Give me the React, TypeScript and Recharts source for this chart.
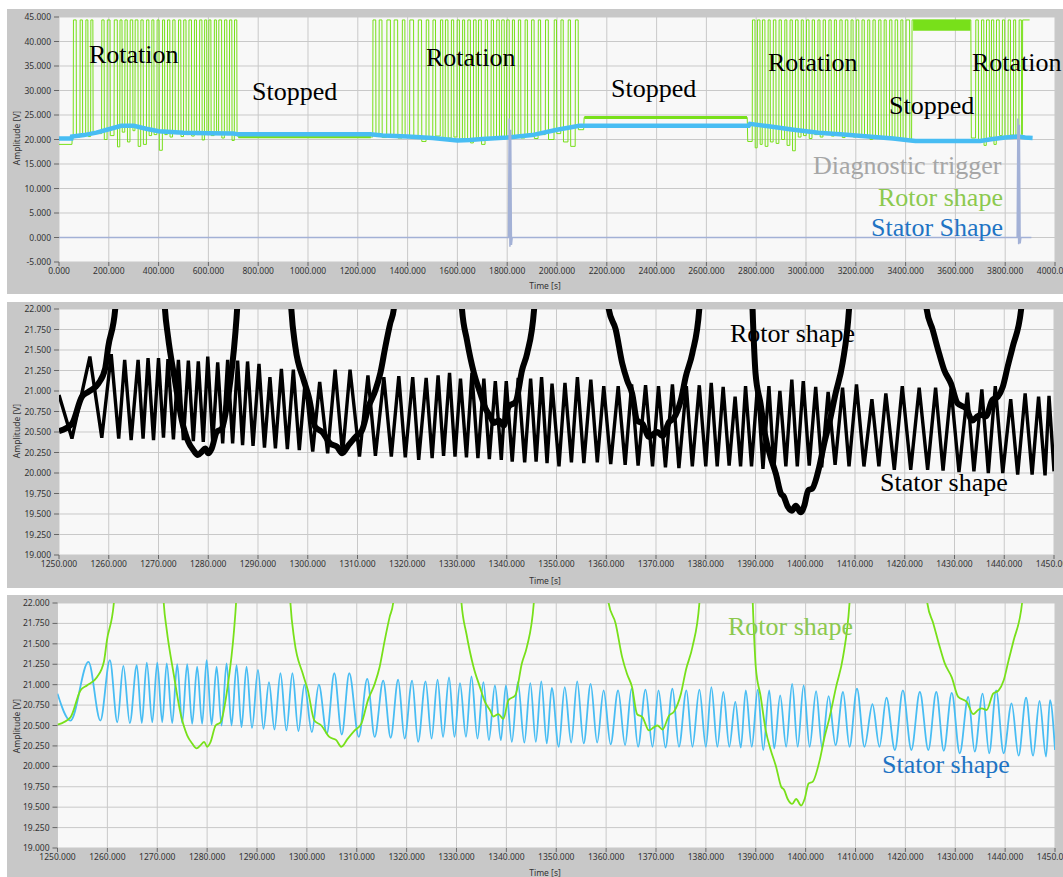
import React from 'react';
import { LineChart, Line, XAxis, YAxis, CartesianGrid } from 'recharts';

// ---------- overview panel (0 - 4000 s) ----------
const overviewTimeTicks = [0, 200, 400, 600, 800, 1000, 1200, 1400, 1600, 1800, 2000, 2200, 2400, 2600, 2800, 3000, 3200, 3400, 3600, 3800, 4000];
const overviewAmpTicks = [-5, 0, 5, 10, 15, 20, 25, 30, 35, 40, 45];

// rotor signal clips at this level while the rotor passes
const PULSE_TOP = 44.4;

// rotor pulses: [rise s, fall s, level after fall V]
const rotation1 = [
  [58, 69, 20.5], [85, 94, 20.8], [108, 116, 20.6], [128, 136, 21.2], [172, 181, 20.0], [194, 205, 20.8],
  [222, 234, 18.5], [245, 253, 21.5], [265, 274, 19.5], [286, 296, 21.8], [306, 317, 18.6], [329, 338, 19.0],
  [352, 361, 20.8], [373, 381, 21.0], [394, 402, 17.8], [416, 424, 21.0], [436, 445, 20.5], [457, 466, 21.2],
  [480, 489, 20.6], [501, 510, 21.0], [522, 532, 20.7], [544, 552, 21.0], [565, 574, 19.9], [585, 593, 21.0],
  [602, 610, 20.8], [624, 632, 21.3], [642, 653, 20.3], [665, 674, 21.0], [685, 694, 19.8], [705, 714, 21.0],
];
const rotation2 = [
  [1261, 1272, 20.6], [1286, 1297, 20.4], [1317, 1331, 20.8], [1346, 1360, 20.3], [1379, 1389, 20.6], [1409, 1424, 20.5],
  [1443, 1456, 19.6], [1475, 1485, 20.4], [1502, 1512, 20.7], [1532, 1541, 20.2], [1552, 1562, 20.3], [1576, 1585, 20.5],
  [1599, 1608, 19.8], [1621, 1629, 20.0], [1642, 1652, 19.3], [1665, 1675, 20.1], [1685, 1696, 19.0], [1712, 1721, 20.2],
  [1736, 1745, 20.3], [1758, 1768, 20.1], [1778, 1788, 20.5], [1798, 1808, 20.4], [1821, 1829, 20.6], [1845, 1854, 20.3],
  [1872, 1881, 20.8], [1898, 1908, 20.2], [1925, 1934, 21.0], [1954, 1965, 20.0], [1989, 1998, 21.2], [2016, 2025, 19.5],
  [2045, 2054, 18.6], [2074, 2085, 22.0],
];
const rotation3 = [
  [2785, 2795, 18.3], [2805, 2815, 19.0], [2825, 2835, 18.6], [2848, 2856, 19.5], [2869, 2879, 19.2], [2892, 2901, 20.0],
  [2915, 2923, 18.8], [2936, 2945, 17.7], [2958, 2968, 20.5], [2981, 2989, 20.8], [3002, 3012, 20.2], [3025, 3034, 21.0],
  [3048, 3056, 20.5], [3069, 3078, 21.0], [3092, 3101, 20.7], [3114, 3122, 20.9], [3136, 3145, 20.4], [3158, 3168, 20.8],
  [3181, 3189, 20.5], [3202, 3212, 20.4], [3225, 3234, 20.7], [3248, 3256, 20.0], [3269, 3278, 20.5], [3292, 3301, 20.2],
  [3314, 3322, 20.4], [3336, 3345, 20.0], [3358, 3368, 20.3], [3381, 3389, 19.9], [3402, 3416, 19.6],
];
const rotation4 = [
  [3682, 3692, 19.8], [3705, 3714, 18.8], [3725, 3736, 20.5], [3745, 3754, 19.0], [3765, 3776, 20.8],
  [3789, 3798, 20.6], [3812, 3821, 20.9], [3834, 3842, 20.7], [3856, 3865, 21.0],
];

// rotor levels outside the pulse trains
const rotorLeadIn = [[0, 19.0], [52, 19.0], [53, 20.2]];
const rotorStop1 = [[720, 20.5], [1255, 20.5]];
const rotorStop2 = [[2100, 22.0], [2107, 22.0], [2109, 24.5], [2764, 24.5], [2766, 19.6]];
const rotorStop3 = [[3424, 19.6], [3426, PULSE_TOP], [3662, PULSE_TOP], [3664, 20.3]];
const rotorTail = [[3869, 21.0], [3870, PULSE_TOP], [3898, PULSE_TOP]];
// noisy resting levels while stopped
const rotorRest1 = [[720, 20.5], [1252, 20.5]];
const rotorRest2 = [[2110, 24.5], [2763, 24.5]];
const rotorSaturated = [[3430, 43.3], [3660, 43.3]];

const statorOverview = [
  [0, 20.2], [50, 20.2], [52, 20.6], [100, 20.9], [150, 21.4], [200, 22.1], [250, 22.8], [300, 22.8], [350, 22.2],
  [400, 21.7], [500, 21.4], [600, 21.3], [700, 21.2], [720, 21.05], [1250, 21.05], [1300, 20.8], [1400, 20.6],
  [1500, 20.3], [1600, 19.8], [1650, 19.9], [1700, 20.1], [1800, 20.4], [1900, 20.9], [2000, 22.0], [2090, 22.8],
  [2770, 22.8], [2775, 23.2], [2850, 22.7], [2950, 22.0], [3050, 21.4], [3150, 21.0], [3250, 20.6], [3350, 20.2],
  [3420, 19.8], [3440, 19.7], [3700, 19.7], [3750, 20.1], [3800, 20.4], [3850, 20.6], [3880, 20.4], [3910, 20.3],
];

const diagnosticTrigger = [
  [0, 0], [1805, 0], [1808, 24.3], [1811, -1.9], [1814, 22.0], [1817, -1.5], [1820, 0],
  [3848, 0], [3851, 24.3], [3854, -1.4], [3857, 23.0], [3860, -1.2], [3863, 0], [3905, 0],
];

// ---------- zoomed panels (1250 - 1450 s) ----------
const zoomTimeTicks = [1250, 1260, 1270, 1280, 1290, 1300, 1310, 1320, 1330, 1340, 1350, 1360, 1370, 1380, 1390, 1400, 1410, 1420, 1430, 1440, 1450];
const zoomAmpTicks = [19, 19.25, 19.5, 19.75, 20, 20.25, 20.5, 20.75, 21, 21.25, 21.5, 21.75, 22];

// filtered rotor shape; 44.4 marks the clipped passes above the view
const rotorShape = [
  [1250.0, 20.51], [1252.6, 20.60], [1254.6, 20.93], [1255.9, 20.99], [1257.9, 21.09], [1259.3, 21.28], [1259.9, 21.54], [1261.3, 22.0],
  [1266.0, 44.4],
  [1271.3, 22.0], [1271.9, 21.67], [1273.3, 21.13], [1274.7, 20.64], [1276.0, 20.38], [1277.0, 20.28], [1277.9, 20.22], [1278.7, 20.26],
  [1279.4, 20.30], [1280.0, 20.24], [1280.7, 20.30], [1281.7, 20.50], [1282.7, 20.54], [1284.1, 20.97], [1285.4, 21.67], [1285.8, 22.0],
  [1291.0, 44.4],
  [1296.7, 22.0], [1297.5, 21.54], [1299.2, 21.13], [1300.2, 20.93], [1301.5, 20.56], [1302.9, 20.50], [1304.5, 20.36], [1305.9, 20.32],
  [1306.9, 20.24], [1308.2, 20.34], [1309.6, 20.44], [1310.9, 20.52], [1312.3, 20.82], [1313.6, 21.01], [1314.6, 21.22], [1315.6, 21.54],
  [1316.6, 21.83], [1317.3, 22.0],
  [1324.0, 44.4],
  [1331.0, 22.0], [1332.0, 21.62], [1333.4, 21.22], [1334.7, 20.97], [1335.7, 20.79], [1336.7, 20.69], [1337.4, 20.61], [1338.4, 20.64],
  [1339.4, 20.58], [1340.4, 20.81], [1341.8, 20.87], [1343.1, 21.26], [1344.1, 21.46], [1345.5, 22.0],
  [1353.0, 44.4],
  [1360.5, 22.0], [1361.9, 21.75], [1363.2, 21.34], [1364.2, 21.13], [1365.2, 20.97], [1366.2, 20.64], [1367.3, 20.60], [1368.6, 20.44],
  [1369.6, 20.48], [1370.3, 20.50], [1371.3, 20.45], [1372.6, 20.62], [1373.6, 20.67], [1375.0, 20.89], [1376.0, 21.18], [1377.3, 21.46],
  [1378.7, 22.0],
  [1384.0, 44.4],
  [1389.4, 22.0], [1390.0, 21.22], [1391.0, 20.85], [1392.0, 20.44], [1393.0, 20.20], [1394.1, 19.99], [1395.1, 19.75], [1395.7, 19.71],
  [1396.4, 19.60], [1397.3, 19.54], [1398.1, 19.60], [1399.1, 19.52], [1399.8, 19.60], [1400.6, 19.79], [1401.4, 19.81], [1402.8, 20.07],
  [1403.8, 20.36], [1404.8, 20.60], [1406.1, 20.97], [1407.5, 21.34], [1408.8, 22.0],
  [1416.0, 44.4],
  [1424.4, 22.0], [1425.6, 21.75], [1426.9, 21.46], [1427.9, 21.26], [1429.3, 21.09], [1430.6, 20.85], [1432.3, 20.79], [1433.6, 20.64],
  [1434.6, 20.69], [1435.3, 20.71], [1436.3, 20.69], [1437.6, 20.89], [1438.7, 20.93], [1439.7, 21.05], [1440.7, 21.30], [1441.7, 21.54],
  [1443.4, 22.0],
  [1450.0, 44.4],
];

// filtered stator shape: alternating peaks and troughs
const statorShape = [
  [1250.0, 20.89], [1252.6, 20.56], [1256.2, 21.28], [1258.6, 20.56], [1260.5, 21.30], [1262.0, 20.54], [1263.2, 21.23], [1264.5, 20.53],
  [1265.9, 21.24], [1266.9, 20.53], [1267.9, 21.27], [1269.0, 20.54], [1270.0, 21.27], [1271.0, 20.54], [1271.9, 21.26], [1273.0, 20.53],
  [1274.0, 21.25], [1275.0, 20.53], [1276.0, 21.25], [1277.0, 20.52], [1278.0, 21.22], [1279.0, 20.52], [1279.9, 21.30], [1280.9, 20.51],
  [1281.9, 21.22], [1282.9, 20.50], [1283.9, 21.26], [1284.9, 20.50], [1285.9, 21.24], [1286.9, 20.48], [1287.9, 21.22], [1289.0, 20.47],
  [1290.2, 21.18], [1291.3, 20.46], [1292.4, 21.03], [1293.5, 20.45], [1294.7, 21.14], [1295.9, 20.44], [1297.1, 21.14], [1298.3, 20.43],
  [1299.5, 21.00], [1301.0, 20.42], [1302.4, 21.00], [1304.0, 20.40], [1305.5, 21.14], [1307.0, 20.39], [1308.5, 21.14], [1310.4, 20.36],
  [1312.1, 21.07], [1313.6, 20.36], [1315.3, 21.05], [1316.8, 20.35], [1318.3, 21.06], [1319.6, 20.34], [1321.1, 21.05], [1322.3, 20.30],
  [1323.8, 21.04], [1325.0, 20.34], [1326.2, 21.06], [1327.3, 20.36], [1328.5, 21.09], [1329.6, 20.36], [1330.7, 21.02], [1331.9, 20.36],
  [1333.0, 21.10], [1334.2, 20.34], [1335.4, 21.03], [1336.5, 20.32], [1337.7, 20.99], [1338.9, 20.32], [1339.9, 20.99], [1341.1, 20.30],
  [1342.3, 21.03], [1343.6, 20.29], [1344.8, 21.02], [1345.9, 20.30], [1347.0, 21.04], [1348.1, 20.28], [1349.1, 20.96], [1350.5, 20.24],
  [1351.7, 20.97], [1353.0, 20.29], [1354.2, 21.04], [1355.5, 20.28], [1356.9, 21.01], [1358.2, 20.29], [1359.5, 20.93], [1360.9, 20.27],
  [1362.4, 20.93], [1363.8, 20.26], [1365.1, 20.95], [1366.4, 20.24], [1367.9, 20.94], [1369.3, 20.24], [1370.5, 20.93], [1371.9, 20.23],
  [1373.3, 20.95], [1374.6, 20.24], [1376.1, 20.93], [1377.3, 20.24], [1378.7, 20.94], [1380.0, 20.24], [1381.1, 20.97], [1382.3, 20.24],
  [1383.5, 20.91], [1384.7, 20.24], [1385.9, 20.79], [1387.0, 20.23], [1388.0, 20.93], [1389.2, 20.24], [1390.4, 20.94], [1391.5, 20.20],
  [1392.7, 20.93], [1393.7, 20.22], [1394.9, 20.87], [1396.1, 20.24], [1397.3, 21.01], [1398.4, 20.24], [1399.6, 20.99], [1400.8, 20.24],
  [1402.1, 20.92], [1403.3, 20.23], [1404.6, 20.86], [1406.0, 20.26], [1407.5, 20.91], [1408.8, 20.24], [1410.3, 20.95], [1411.8, 20.24],
  [1413.4, 20.76], [1414.8, 20.24], [1416.2, 20.84], [1417.9, 20.20], [1419.5, 20.93], [1421.2, 20.20], [1422.9, 20.91], [1424.6, 20.20],
  [1426.2, 20.91], [1427.7, 20.19], [1429.3, 20.90], [1430.9, 20.16], [1432.6, 20.85], [1433.9, 20.18], [1435.5, 20.89], [1436.8, 20.16],
  [1438.2, 20.93], [1439.7, 20.16], [1441.3, 20.77], [1442.7, 20.13], [1444.2, 20.84], [1445.6, 20.13], [1446.9, 20.80], [1448.2, 20.12],
  [1449.0, 20.81], [1450.0, 20.20],
];

// raw (unfiltered) stator shape as seen in the middle panel
const statorShapeRaw = [
  [1250.0, 20.95], [1252.6, 20.42], [1256.2, 21.42], [1258.6, 20.43], [1260.5, 21.45], [1262.0, 20.42], [1263.2, 21.38], [1264.5, 20.40],
  [1265.9, 21.38], [1266.9, 20.42], [1267.9, 21.40], [1269.0, 20.40], [1270.0, 21.40], [1271.0, 20.43], [1271.9, 21.39], [1273.0, 20.41],
  [1274.0, 21.38], [1275.0, 20.40], [1276.0, 21.37], [1277.0, 20.39], [1278.0, 21.36], [1279.0, 20.38], [1279.9, 21.42], [1280.9, 20.37],
  [1281.9, 21.35], [1282.9, 20.36], [1283.9, 21.38], [1284.9, 20.36], [1285.9, 21.37], [1286.9, 20.34], [1287.9, 21.36], [1289.0, 20.33],
  [1290.2, 21.33], [1291.3, 20.31], [1292.4, 21.17], [1293.5, 20.30], [1294.7, 21.27], [1295.9, 20.29], [1297.1, 21.26], [1298.3, 20.28],
  [1299.5, 21.13], [1301.0, 20.26], [1302.4, 21.11], [1304.0, 20.24], [1305.5, 21.26], [1307.0, 20.23], [1308.5, 21.26], [1310.4, 20.20],
  [1312.1, 21.19], [1313.6, 20.21], [1315.3, 21.17], [1316.8, 20.20], [1318.3, 21.18], [1319.6, 20.19], [1321.1, 21.17], [1322.3, 20.16],
  [1323.8, 21.16], [1325.0, 20.18], [1326.2, 21.19], [1327.3, 20.21], [1328.5, 21.22], [1329.6, 20.20], [1330.7, 21.15], [1331.9, 20.19],
  [1333.0, 21.22], [1334.2, 20.18], [1335.4, 21.15], [1336.5, 20.17], [1337.7, 21.12], [1338.9, 20.16], [1339.9, 21.12], [1341.1, 20.14],
  [1342.3, 21.16], [1343.6, 20.13], [1344.8, 21.15], [1345.9, 20.14], [1347.0, 21.17], [1348.1, 20.12], [1349.1, 21.09], [1350.5, 20.08],
  [1351.7, 21.10], [1353.0, 20.13], [1354.2, 21.17], [1355.5, 20.12], [1356.9, 21.14], [1358.2, 20.13], [1359.5, 21.06], [1360.9, 20.11],
  [1362.4, 21.06], [1363.8, 20.10], [1365.1, 21.08], [1366.4, 20.09], [1367.9, 21.07], [1369.3, 20.08], [1370.5, 21.06], [1371.9, 20.07],
  [1373.3, 21.08], [1374.6, 20.06], [1376.1, 21.06], [1377.3, 20.08], [1378.7, 21.07], [1380.0, 20.08], [1381.1, 21.10], [1382.3, 20.08],
  [1383.5, 21.05], [1384.7, 20.09], [1385.9, 20.93], [1387.0, 20.08], [1388.0, 21.06], [1389.2, 20.08], [1390.4, 21.07], [1391.5, 20.05],
  [1392.7, 21.06], [1393.7, 20.06], [1394.9, 21.00], [1396.1, 20.08], [1397.3, 21.14], [1398.4, 20.08], [1399.6, 21.12], [1400.8, 20.09],
  [1402.1, 21.05], [1403.3, 20.07], [1404.6, 20.99], [1406.0, 20.10], [1407.5, 21.04], [1408.8, 20.08], [1410.3, 21.08], [1411.8, 20.08],
  [1413.4, 20.90], [1414.8, 20.08], [1416.2, 20.97], [1417.9, 20.04], [1419.5, 21.06], [1421.2, 20.04], [1422.9, 21.04], [1424.6, 20.04],
  [1426.2, 21.04], [1427.7, 20.03], [1429.3, 21.03], [1430.9, 20.01], [1432.6, 20.98], [1433.9, 20.02], [1435.5, 21.02], [1436.8, 20.00],
  [1438.2, 21.06], [1439.7, 20.00], [1441.3, 20.90], [1442.7, 19.98], [1444.2, 20.97], [1445.6, 19.98], [1446.9, 20.93], [1448.2, 19.97],
  [1449.0, 20.94], [1450.0, 20.02],
];

// ---------- styling ----------
const FRAME = '#c8c8c8';
const PLOT_BG = '#f8f8f8';
const GRID = '#c9c9c9';
const ROTOR_GREEN = '#78e01a';
const STATOR_BLUE = '#48bdf3';
const TRIGGER = '#a3b1d6';
const AXIS_FONT = "'Noto Sans', 'DejaVu Sans', sans-serif";
const NOTE_FONT = "'Liberation Serif', 'Times New Roman', serif";

const toPts = (pairs: number[][]) => pairs.map(([t, v]) => ({ t, v }));

function pulseTrain(pulses: number[][], startLevel: number) {
  const out: number[][] = [];
  let level = startLevel;
  for (const [rise, fall, after] of pulses) {
    out.push([rise - 1, level], [rise, PULSE_TOP], [fall, PULSE_TOP], [fall + 1, after]);
    level = after;
  }
  return out;
}

const rotorOverview = toPts([
  ...rotorLeadIn,
  ...pulseTrain(rotation1, 20.2),
  ...rotorStop1,
  ...pulseTrain(rotation2, 20.5),
  ...rotorStop2,
  ...pulseTrain(rotation3, 19.6),
  ...rotorStop3,
  ...pulseTrain(rotation4, 20.3),
  ...rotorTail,
]);

const fmt3 = (v: number) => v.toFixed(3);
const tickStyle = { fontSize: 8.5, fill: '#333', fontFamily: AXIS_FONT };

function axes(timeDomain: number[], timeTicks: number[], ampDomain: number[], ampTicks: number[]) {
  return [
    <CartesianGrid key="g" stroke={GRID} fill={PLOT_BG} fillOpacity={1} />,
    <XAxis
      key="x" type="number" dataKey="t" domain={timeDomain} ticks={timeTicks} interval={0}
      tickFormatter={fmt3} axisLine={false} tickLine={{ stroke: '#666' }} tickSize={4} tickMargin={2}
      tick={tickStyle} height={20} allowDataOverflow
    />,
    <YAxis
      key="y" type="number" dataKey="v" domain={ampDomain} ticks={ampTicks} interval={0}
      tickFormatter={fmt3} axisLine={false} tickLine={{ stroke: '#666' }} tickSize={5} tickMargin={3}
      tick={tickStyle} width={46} allowDataOverflow
    />,
  ];
}

const series = { dot: false, activeDot: false, isAnimationActive: false, dataKey: 'v' } as const;

function Frame({ top, height, children }: { top: number; height: number; children: React.ReactNode }) {
  return (
    <div style={{ position: 'absolute', left: 7, top, width: 1056, height, background: FRAME }}>{children}</div>
  );
}

function Note({ x, y, color, children }: { x: number; y: number; color: string; children: string }) {
  return (
    <text x={x} y={y} fill={color} fontSize={26} fontFamily={NOTE_FONT}>{children}</text>
  );
}

function AxisTitles({ timeY, ampY }: { timeY: number; ampY: number }) {
  return (
    <>
      <text x={545} y={timeY} textAnchor="middle" fontSize={8.5} fill="#333" fontFamily={AXIS_FONT}>Time [s]</text>
      <text transform={`translate(20,${ampY}) rotate(-90)`} textAnchor="middle" fontSize={8.5} fill="#333" fontFamily={AXIS_FONT}>Amplitude [V]</text>
    </>
  );
}

export default function App() {
  return (
    <div style={{ position: 'absolute', left: 0, top: 0, width: 1063, height: 877, background: '#fff', overflow: 'hidden' }}>
      <Frame top={9} height={285}>
        <LineChart width={1056} height={285} margin={{ top: 8, right: 8, bottom: 12, left: 6 }}>
          {axes([0, 4000], overviewTimeTicks, [-5, 45], overviewAmpTicks)}
          <Line {...series} data={rotorOverview} type="linear" stroke={ROTOR_GREEN} strokeWidth={1} />
          <Line {...series} data={toPts(rotorRest1)} type="linear" stroke={ROTOR_GREEN} strokeWidth={2.5} />
          <Line {...series} data={toPts(rotorRest2)} type="linear" stroke={ROTOR_GREEN} strokeWidth={3} />
          <Line {...series} data={toPts(rotorSaturated)} type="linear" stroke={ROTOR_GREEN} strokeWidth={11} />
          <Line {...series} data={toPts(statorOverview)} type="linear" stroke={STATOR_BLUE} strokeWidth={4.5} />
          <Line {...series} data={toPts(diagnosticTrigger)} type="linear" stroke={TRIGGER} strokeWidth={1.5} />
        </LineChart>
      </Frame>

      <Frame top={302} height={286}>
        <LineChart width={1056} height={286} margin={{ top: 7, right: 9, bottom: 13, left: 6 }}>
          {axes([1250, 1450], zoomTimeTicks, [19, 22], zoomAmpTicks)}
          <Line {...series} data={toPts(statorShapeRaw)} type="linear" stroke="#000" strokeWidth={3.4} />
          <Line {...series} data={toPts(rotorShape)} type="monotone" stroke="#000" strokeWidth={6} />
        </LineChart>
      </Frame>

      <Frame top={595} height={282}>
        <LineChart width={1056} height={282} margin={{ top: 8, right: 8, bottom: 9, left: 4.5 }}>
          {axes([1250, 1450], zoomTimeTicks, [19, 22], zoomAmpTicks)}
          <Line {...series} data={toPts(statorShape)} type="monotone" stroke={STATOR_BLUE} strokeWidth={1.8} />
          <Line {...series} data={toPts(rotorShape)} type="monotone" stroke={ROTOR_GREEN} strokeWidth={1.8} />
        </LineChart>
      </Frame>

      <svg width={1063} height={877} style={{ position: 'absolute', left: 0, top: 0, pointerEvents: 'none' }}>
        <AxisTitles timeY={289} ampY={138} />
        <AxisTitles timeY={584} ampY={431} />
        <AxisTitles timeY={876} ampY={726} />

        <Note x={89} y={63} color="#000">Rotation</Note>
        <Note x={252} y={100} color="#000">Stopped</Note>
        <Note x={426} y={66} color="#000">Rotation</Note>
        <Note x={611} y={97} color="#000">Stopped</Note>
        <Note x={768} y={71} color="#000">Rotation</Note>
        <Note x={889} y={114} color="#000">Stopped</Note>
        <Note x={972} y={71} color="#000">Rotation</Note>
        <Note x={813} y={174} color="#a6a6a6">Diagnostic trigger</Note>
        <Note x={878} y={206} color="#8cc94e">Rotor shape</Note>
        <Note x={871} y={236} color="#1f74c4">Stator Shape</Note>

        <Note x={730} y={342} color="#000">Rotor shape</Note>
        <Note x={880} y={491} color="#000">Stator shape</Note>

        <Note x={728} y={635} color="#8cc94e">Rotor shape</Note>
        <Note x={882} y={773} color="#1f74c4">Stator shape</Note>
      </svg>
    </div>
  );
}
